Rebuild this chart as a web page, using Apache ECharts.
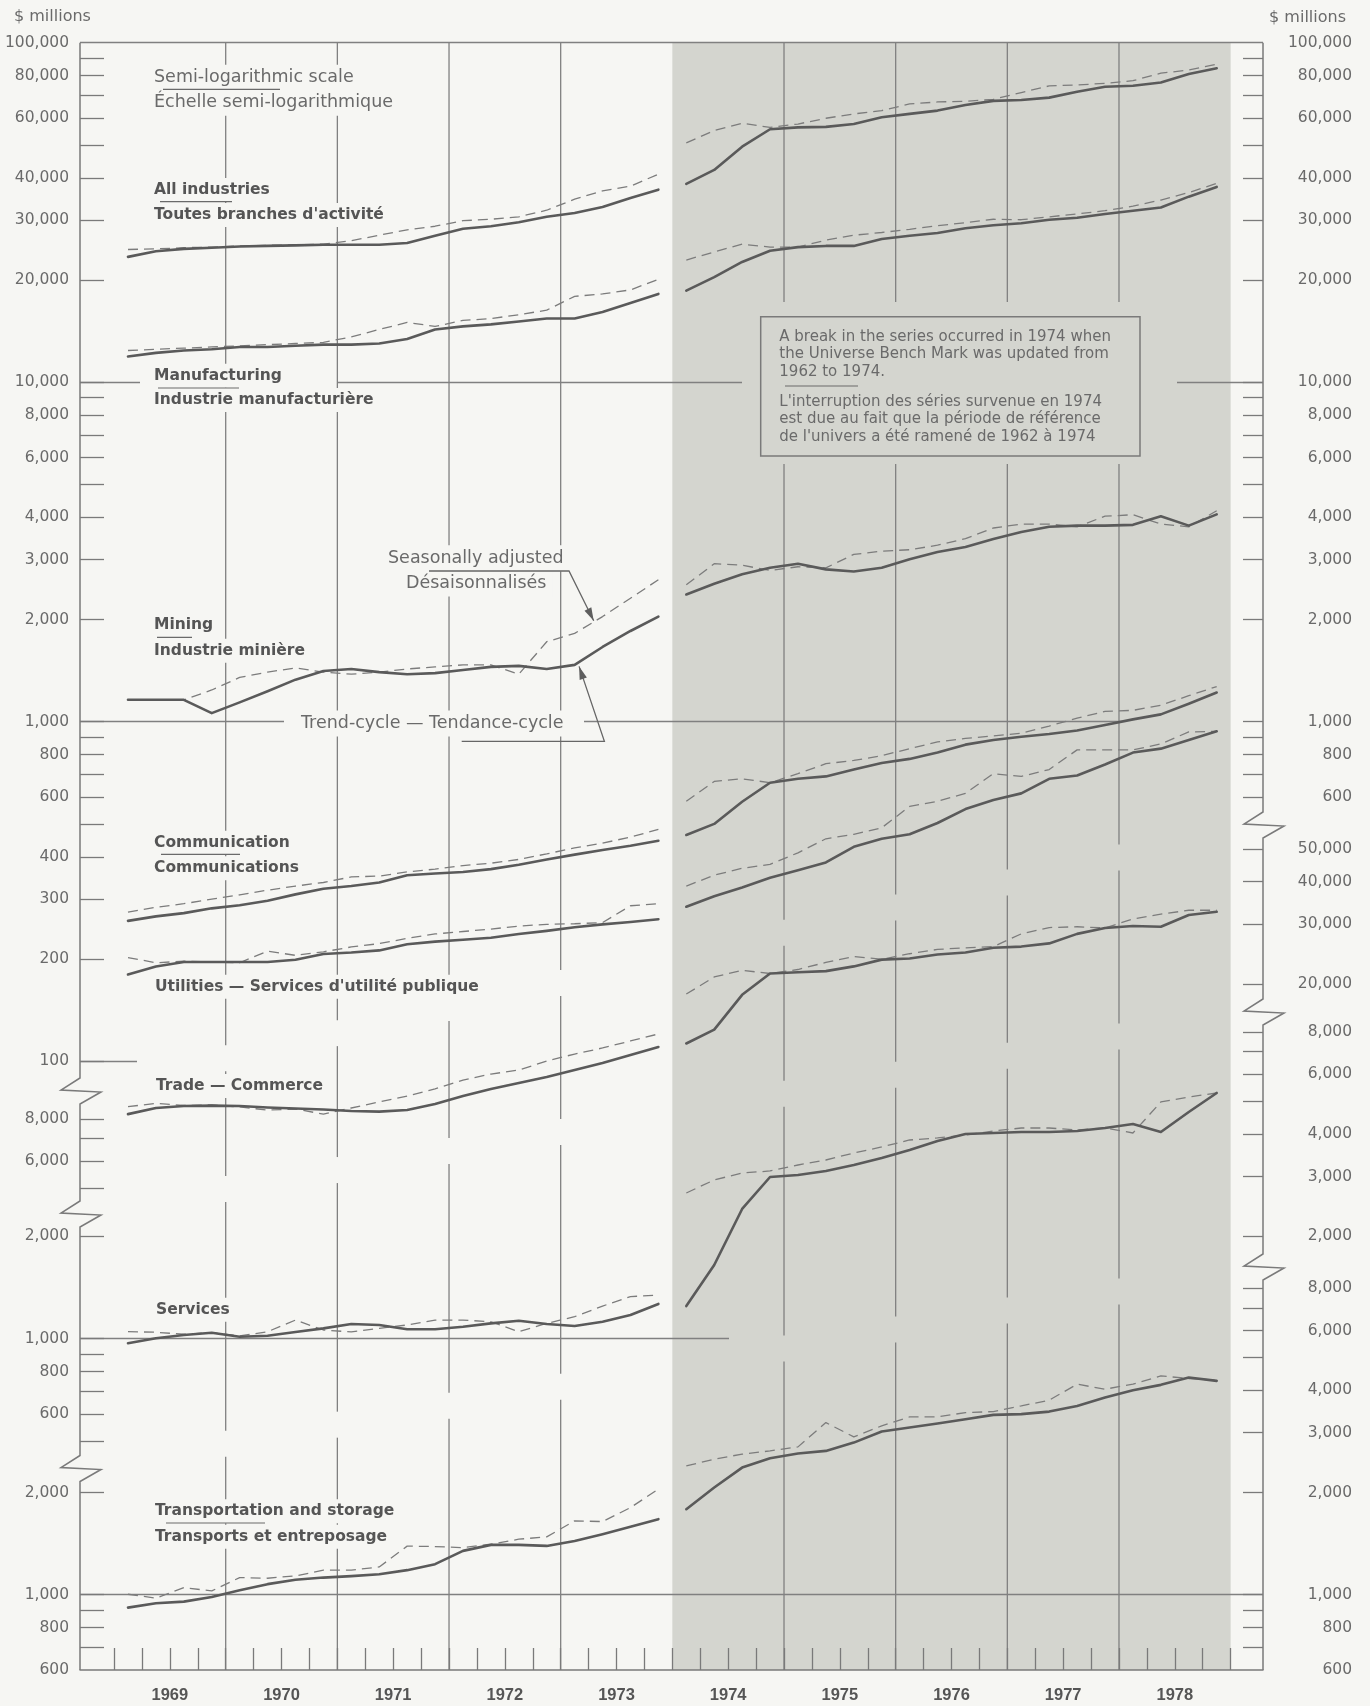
<!DOCTYPE html>
<html>
<head>
<meta charset="utf-8">
<script src="https://cdn.jsdelivr.net/npm/echarts@6/dist/echarts.min.js"></script>
<style>
  html, body { margin: 0; padding: 0; background: #f6f6f3; }
  #chart { width: 1370px; height: 1706px; }
</style>
</head>
<body>
<div id="chart"></div>
<script>
// ---------------- categories ----------------
const yearsBefore = [1969, 1970, 1971, 1972, 1973];
const yearsAfter  = [1974, 1975, 1976, 1977, 1978];
const quarters    = ['Q1', 'Q2', 'Q3', 'Q4'];
const allYears    = yearsBefore.concat(yearsAfter);
const yearLines   = [1970, 1971, 1972, 1973, 1975, 1976, 1977, 1978];
const breakPeriod = [1974, 1979];

// ---------------- series values ($ millions, quarterly) ----------------
const allIndustriesTrend_69_73 = [23400, 24300, 24700, 24900, 25100, 25200, 25300, 25400, 25400, 25400, 25700, 27000, 28300, 28800, 29600, 30700, 31500, 32800, 34900, 36900];
const allIndustriesSA_69_73    = [24600, 24700, 24900, 25000, 25200, 25300, 25400, 25500, 26100, 27100, 28100, 28800, 29900, 30200, 30700, 32100, 34600, 36600, 37800, 41000];
const allIndustriesTrend_74_78 = [38400, 42200, 49400, 55600, 56300, 56500, 57600, 60300, 61700, 63100, 65500, 67400, 67800, 68900, 71700, 74200, 74700, 76300, 80900, 84100];
const allIndustriesSA_74_78    = [50700, 55100, 57900, 56300, 57600, 59900, 61700, 63100, 66000, 66900, 67200, 68100, 71300, 74600, 75100, 75900, 77300, 81300, 83100, 86400];

const manufacturingTrend_69_73 = [11900, 12200, 12400, 12500, 12700, 12700, 12800, 12900, 12900, 13000, 13400, 14300, 14600, 14800, 15100, 15400, 15400, 16100, 17100, 18200];
const manufacturingSA_69_73    = [12400, 12500, 12600, 12700, 12800, 12900, 13000, 13100, 13600, 14300, 15000, 14600, 15200, 15400, 15800, 16300, 17900, 18200, 18700, 20100];
const manufacturingTrend_74_78 = [18600, 20400, 22600, 24400, 25000, 25200, 25200, 26400, 27000, 27500, 28400, 29000, 29400, 30100, 30500, 31300, 32000, 32700, 35200, 37600];
const manufacturingSA_74_78    = [22900, 24200, 25500, 25000, 25000, 26200, 27100, 27600, 28200, 28900, 29500, 30200, 30100, 30700, 31300, 32000, 33000, 34400, 36200, 38500];

const miningTrend_69_73 = [1160, 1160, 1160, 1060, 1140, 1230, 1330, 1410, 1430, 1400, 1380, 1390, 1420, 1450, 1460, 1430, 1470, 1660, 1850, 2040];
const miningSA_69_73    = [1160, 1160, 1160, 1240, 1350, 1400, 1440, 1400, 1380, 1400, 1430, 1450, 1470, 1470, 1380, 1720, 1820, 2040, 2310, 2620];
const miningTrend_74_78 = [2370, 2550, 2720, 2840, 2920, 2810, 2770, 2840, 3010, 3160, 3270, 3450, 3620, 3750, 3780, 3780, 3800, 4030, 3780, 4080];
const miningSA_74_78    = [2530, 2920, 2890, 2790, 2860, 2840, 3110, 3180, 3210, 3310, 3460, 3720, 3820, 3820, 3750, 4030, 4070, 3820, 3750, 4180];

const communicationTrend_69_73 = [259, 267, 273, 282, 288, 297, 310, 322, 328, 336, 353, 357, 361, 368, 379, 393, 406, 419, 431, 446];
const communicationSA_69_73    = [275, 284, 291, 300, 309, 319, 328, 336, 349, 351, 361, 368, 377, 383, 393, 408, 425, 439, 457, 482];
const communicationTrend_74_78 = [464, 500, 581, 661, 679, 690, 723, 756, 777, 811, 856, 883, 903, 920, 942, 978, 1016, 1051, 1130, 1219];
const communicationSA_74_78    = [583, 667, 679, 661, 703, 752, 769, 794, 833, 872, 893, 908, 925, 971, 1024, 1072, 1080, 1118, 1193, 1269];

const utilitiesTrend_69_73 = [180, 190, 196, 196, 196, 196, 199, 207, 209, 212, 221, 225, 228, 231, 237, 242, 248, 253, 257, 262];
const utilitiesSA_69_73    = [202, 195, 197, 196, 195, 211, 205, 210, 217, 222, 230, 237, 241, 245, 250, 253, 254, 256, 287, 291];
const utilitiesTrend_74_78 = [285, 306, 325, 347, 365, 385, 428, 452, 466, 503, 553, 588, 615, 679, 694, 748, 811, 833, 883, 937];
const utilitiesSA_74_78    = [328, 353, 370, 380, 411, 452, 466, 487, 563, 583, 615, 703, 690, 723, 826, 826, 826, 860, 933, 937];

const tradeTrend_69_73 = [8270, 8620, 8740, 8760, 8740, 8650, 8590, 8530, 8450, 8410, 8500, 8860, 9350, 9810, 10210, 10630, 11150, 11690, 12350, 13040];
const tradeSA_69_73    = [8700, 8890, 8770, 8800, 8680, 8500, 8560, 8270, 8620, 8980, 9350, 9810, 10420, 10850, 11150, 11850, 12430, 12950, 13580, 14240];
const tradeTrend_74_78 = [13350, 14670, 18570, 21460, 21640, 21810, 22520, 23580, 23760, 24410, 24750, 25550, 25760, 26320, 28080, 29230, 29630, 29470, 31920, 32610];
const tradeSA_74_78    = [18670, 20960, 21930, 21460, 22050, 23140, 24080, 23640, 24540, 25270, 25550, 25760, 28080, 29310, 29470, 29230, 31080, 32090, 32960, 32960];

const servicesTrend_69_73 = [969, 1002, 1025, 1041, 1013, 1020, 1046, 1072, 1104, 1097, 1065, 1065, 1084, 1109, 1129, 1104, 1089, 1121, 1174, 1265];
const servicesSA_69_73    = [1048, 1044, 1030, 1041, 1018, 1048, 1134, 1060, 1046, 1072, 1097, 1134, 1134, 1121, 1048, 1109, 1160, 1247, 1329, 1344];
const servicesTrend_74_78 = [1247, 1647, 2409, 2992, 3033, 3117, 3246, 3404, 3594, 3819, 4005, 4033, 4060, 4060, 4088, 4172, 4287, 4060, 4650, 5290];
const servicesSA_74_78    = [2685, 2933, 3074, 3117, 3246, 3358, 3522, 3668, 3846, 3899, 3979, 4088, 4172, 4172, 4116, 4172, 4033, 4977, 5149, 5290];

const transportTrend_69_73 = [916, 944, 954, 985, 1031, 1074, 1106, 1123, 1134, 1149, 1181, 1230, 1346, 1402, 1402, 1392, 1440, 1507, 1584, 1669];
const transportSA_69_73    = [1003, 977, 1049, 1026, 1123, 1118, 1136, 1181, 1181, 1207, 1390, 1386, 1376, 1408, 1457, 1480, 1650, 1642, 1805, 2046];
const transportTrend_74_78 = [1786, 2068, 2368, 2524, 2604, 2652, 2805, 3023, 3106, 3192, 3288, 3385, 3402, 3462, 3598, 3806, 4003, 4150, 4361, 4264];
const transportSA_74_78    = [2395, 2507, 2594, 2652, 2725, 3213, 2916, 3142, 3339, 3339, 3438, 3462, 3598, 3740, 4169, 4030, 4169, 4411, 4331, 4283];

// ---------------- tick labels ----------------
const leftTopTicks    = [90000, 80000, 70000, 60000, 50000, 40000, 30000, 20000, 10000, 9000, 8000, 7000, 6000, 5000, 4000, 3000, 2000, 1000, 900, 800, 700, 600, 500, 400, 300, 200, 100];
const leftTopLabels   = [100000, 80000, 60000, 40000, 30000, 20000, 10000, 8000, 6000, 4000, 3000, 2000, 1000, 800, 600, 400, 300, 200, 100];
const leftTradeTicks  = [8000, 7000, 6000, 5000];
const leftTradeLabels = [8000, 6000];
const leftServTicks   = [2000, 1000, 900, 800, 700, 600, 500];
const leftServLabels  = [2000, 1000, 800, 600];
const leftTransTicks  = [2000, 1000, 900, 800, 700];
const leftTransLabels = [2000, 1000, 800, 600];
const rightTopTicks    = [90000, 80000, 70000, 60000, 50000, 40000, 30000, 20000, 10000, 9000, 8000, 7000, 6000, 5000, 4000, 3000, 2000, 1000, 900, 800, 700, 600];
const rightTopLabels   = [100000, 80000, 60000, 40000, 30000, 20000, 10000, 8000, 6000, 4000, 3000, 2000, 1000, 800, 600];
const rightTradeTicks  = [50000, 40000, 30000, 20000];
const rightTradeLabels = [50000, 40000, 30000, 20000];
const rightServTicks   = [8000, 7000, 6000, 5000, 4000, 3000, 2000];
const rightServLabels  = [8000, 6000, 4000, 3000, 2000];
const rightTransTicks  = [8000, 7000, 6000, 5000, 4000, 3000, 2000, 1000, 900, 800, 700];
const rightTransLabels = [8000, 6000, 4000, 3000, 2000, 1000, 800, 600];

// ---------------- layout & style ----------------
const BG = '#f6f6f3', SHADE = '#d4d5cf', SOLID = '#5a5a5a', DASH = '#7c7c7c';
const GRIDC = '#808080', TXT = '#6a6a6a', BOLDTXT = '#555555';
const GRID = { left: 80, top: 42.7, width: 1183, height: 1627.3 };
const X_MIN = 1968.6952, X_MAX = 1979.2897;
const PX_PER_DECADE = 339.5;
const bottomPx = GRID.top + GRID.height;
const rightPx = GRID.left + GRID.width;
const yr = px => X_MIN + (px - GRID.left) / GRID.width * (X_MAX - X_MIN);
function logRange(anchorValue, anchorPx) {
  return [anchorValue * Math.pow(10, (anchorPx - bottomPx) / PX_PER_DECADE),
          anchorValue * Math.pow(10, (anchorPx - GRID.top) / PX_PER_DECADE)];
}
const rangeTop   = logRange(100000, GRID.top);
const rangeTrade = logRange(8000, 1119);
const rangeServ  = logRange(1000, 1338.6);
const rangeTrans = logRange(600, bottomPx);
// scale breaks (left axis y, right axis y), px
const BREAKS = [{ l: 1091, r: 825 }, { l: 1214, r: 1012 }, { l: 1468.5, r: 1267 }];
const GAP = 13;

const NUM_FONT = 'DejaVu Sans';
function yAxis(pos, range, ticks, labels) {
  return {
    type: 'log', logBase: 10, gridIndex: 0, position: pos, offset: 0,
    min: range[0], max: range[1], z: 5,
    axisLine: { show: false },
    splitLine: { show: false },
    axisTick: { show: true, inside: true, length: pos === 'left' ? 24 : 20, customValues: ticks,
                lineStyle: { color: '#7a7a7a', width: 1.3 } },
    axisLabel: { show: true, customValues: labels, align: 'right',
                 margin: pos === 'left' ? 11 : 89,
                 formatter: v => Math.round(v).toLocaleString('en-US'),
                 color: TXT, fontFamily: NUM_FONT, fontSize: 15.5 }
  };
}

// ---------------- series ----------------
const industries = [
  { name: 'All industries', axis: 0, tA: allIndustriesTrend_69_73, sA: allIndustriesSA_69_73, tB: allIndustriesTrend_74_78, sB: allIndustriesSA_74_78 },
  { name: 'Manufacturing', axis: 0, tA: manufacturingTrend_69_73, sA: manufacturingSA_69_73, tB: manufacturingTrend_74_78, sB: manufacturingSA_74_78 },
  { name: 'Mining', axis: 0, tA: miningTrend_69_73, sA: miningSA_69_73, tB: miningTrend_74_78, sB: miningSA_74_78 },
  { name: 'Communication', axis: 0, tA: communicationTrend_69_73, sA: communicationSA_69_73, tB: communicationTrend_74_78, sB: communicationSA_74_78 },
  { name: 'Utilities', axis: 0, tA: utilitiesTrend_69_73, sA: utilitiesSA_69_73, tB: utilitiesTrend_74_78, sB: utilitiesSA_74_78 },
  { name: 'Trade', axis: 1, tA: tradeTrend_69_73, sA: tradeSA_69_73, tB: tradeTrend_74_78, sB: tradeSA_74_78 },
  { name: 'Services', axis: 2, tA: servicesTrend_69_73, sA: servicesSA_69_73, tB: servicesTrend_74_78, sB: servicesSA_74_78 },
  { name: 'Transportation and storage', axis: 3, tA: transportTrend_69_73, sA: transportSA_69_73, tB: transportTrend_74_78, sB: transportSA_74_78 }
];
function toPoints(years, values) {
  const pts = [];
  years.forEach((y, yi) => quarters.forEach((q, qi) => pts.push([y + (qi + 0.5) / 4, values[yi * 4 + qi]])));
  return pts;
}
function mline(segments) {
  return {
    silent: true, symbol: 'none', z: 3, animation: false, label: { show: false },
    lineStyle: { color: GRIDC, width: 1.3, type: 'solid' },
    emphasis: { disabled: true },
    data: segments.map(s => [{ coord: [yr(s[1]), s[0]] }, { coord: [yr(s[2]), s[0]] }])
  };
}
const refLines = {
  0: [[100000, GRID.left, rightPx], [10000, 80, 140], [10000, 337, 742], [10000, 1177, rightPx],
      [1000, 80, 284], [1000, 584, 1122], [100, 80, 137]],
  2: [[1000, 80, 729]],
  3: [[1000, 80, rightPx]]
};

const series = [];
series.push({
  type: 'custom', name: 'break period shading', z: 1, silent: true, clip: false,
  xAxisIndex: 0, yAxisIndex: 0, data: [[breakPeriod[0], 1000, breakPeriod[1]]],
  encode: { x: 0, y: 1 },
  renderItem: (params, api) => {
    const cs = params.coordSys;
    const x1 = api.coord([api.value(0), 1000])[0];
    const x2 = api.coord([api.value(2), 1000])[0];
    return { type: 'rect', shape: { x: x1, y: cs.y, width: x2 - x1, height: cs.height }, style: { fill: SHADE } };
  }
});
series.push({
  type: 'custom', name: 'year lines', z: 2, silent: true, clip: false,
  xAxisIndex: 0, yAxisIndex: 0, data: yearLines.map(y => [y, 1000]),
  renderItem: (params, api) => {
    const cs = params.coordSys;
    const x = api.coord([api.value(0), 1000])[0];
    const t = (x - cs.x) / cs.width;
    const gaps = BREAKS.map(b => b.l + t * (b.r - b.l)).sort((a, b) => a - b);
    const segs = []; let y0 = cs.y;
    gaps.forEach(g => { segs.push([y0, g - GAP]); y0 = g + GAP; });
    segs.push([y0, cs.y + cs.height]);
    return { type: 'group', children: segs.map(s => ({ type: 'line', shape: { x1: x, y1: s[0], x2: x, y2: s[1] },
             style: { stroke: GRIDC, lineWidth: 1.3 } })) };
  }
});
industries.forEach((ind, idx) => {
  [['seasonally adjusted', ind.sA, ind.sB, true], ['trend-cycle', ind.tA, ind.tB, false]].forEach(([kind, a, b, dashed]) => {
    [[yearsBefore, a, '1969–1973'], [yearsAfter, b, '1974–1978']].forEach(([yrs, vals, per], pi) => {
      const s = {
        type: 'line', name: ind.name + ' — ' + kind + ' ' + per,
        xAxisIndex: 0, yAxisIndex: ind.axis, data: toPoints(yrs, vals),
        showSymbol: false, symbol: 'none', smooth: false, clip: false, silent: true,
        z: dashed ? 6 : 7,
        lineStyle: dashed ? { color: DASH, width: 1.3, type: [10, 6] } : { color: SOLID, width: 2.6, cap: 'round', join: 'round' }
      };
      if (!dashed && pi === 0 && refLines[ind.axis] && (idx === 0 || ind.axis !== 0)) {
        s.markLine = mline(refLines[ind.axis]);
      }
      series.push(s);
    });
  });
});

// ---------------- annotations ----------------
const G = [];
const REG = '17.5px "DejaVu Sans"', BOLD = 'bold 15.5px "DejaVu Sans"';
function txt(text, x, y, font, color, opt) {
  opt = opt || {};
  G.push({ type: 'text', z: opt.z || 4, silent: true, style: {
    text, x, y, font, fill: color,
    align: opt.align || 'left', textAlign: opt.align || 'left',
    verticalAlign: 'middle', textVerticalAlign: 'middle',
    backgroundColor: opt.bg === false ? null : (opt.bg || BG), padding: opt.pad || [4, 6, 4, 6]
  } });
}
function poly(points, color, w, z) {
  G.push({ type: 'polyline', z: z || 5, silent: true, shape: { points }, style: { stroke: color || '#666', lineWidth: w || 1.3, fill: null } });
}
function arrow(points) {
  poly(points, '#666', 1.3, 5);
  const p = points[points.length - 2], q = points[points.length - 1];
  const dx = q[0] - p[0], dy = q[1] - p[1], L = Math.hypot(dx, dy);
  const ux = dx / L, uy = dy / L, nx = -uy, ny = ux, len = 13, h = 3.8;
  G.push({ type: 'polygon', z: 5, silent: true, shape: { points: [q,
    [q[0] - ux * len + nx * h, q[1] - uy * len + ny * h],
    [q[0] - ux * len - nx * h, q[1] - uy * len - ny * h]] }, style: { fill: '#5e5e5e' } });
}
// axis lines with scale-break zigzags
function axisLinePoints(x, centers, dir) {
  const pts = [[x, GRID.top]];
  centers.forEach(c => {
    pts.push([x, c - 13]); pts.push([x - 19, c - 1]); pts.push([x + 21, c + 1]); pts.push([x, c + 13]);
  });
  pts.push([x, bottomPx]);
  return pts;
}
poly(axisLinePoints(GRID.left, BREAKS.map(b => b.l)), '#7a7a7a', 1.5, 5);
poly(axisLinePoints(rightPx, BREAKS.map(b => b.r)), '#7a7a7a', 1.5, 5);

// units
txt('$ millions', 8, 17, '16px "DejaVu Sans"', TXT, { bg: false, pad: 0 });
txt('$ millions', 1352, 18, '16px "DejaVu Sans"', TXT, { bg: false, pad: 0, align: 'right' });
// scale note
txt('Semi-logarithmic scale', 148, 77.7, REG, TXT);
txt('Échelle semi-logarithmique', 148, 102.7, REG, TXT);
// industry labels
txt('All industries', 148, 190, BOLD, BOLDTXT);
txt('Toutes branches d\'activité', 148, 215, BOLD, BOLDTXT);
txt('Manufacturing', 148, 375.7, BOLD, BOLDTXT);
txt('Industrie manufacturière', 148, 400, BOLD, BOLDTXT);
txt('Mining', 148, 625, BOLD, BOLDTXT);
txt('Industrie minière', 148, 650.7, BOLD, BOLDTXT);
txt('Communication', 148, 842.7, BOLD, BOLDTXT);
txt('Communications', 148, 868.3, BOLD, BOLDTXT);
txt('Utilities — Services d\'utilité publique', 149, 986.7, BOLD, BOLDTXT);
txt('Trade — Commerce', 150, 1086, BOLD, BOLDTXT);
txt('Services', 150, 1309.7, BOLD, BOLDTXT);
txt('Transportation and storage', 149, 1511.3, BOLD, BOLDTXT);
txt('Transports et entreposage', 149, 1536.7, BOLD, BOLDTXT);
// line-type annotations
txt('Seasonally adjusted', 382, 558.2, REG, TXT);
txt('Désaisonnalisés', 400, 583.6, REG, TXT);
txt('Trend-cycle — Tendance-cycle', 295, 723.6, REG, TXT);
arrow([[429, 571], [569, 571], [593.7, 620.7]]);
arrow([[461.7, 741.4], [604.4, 741.4], [579.1, 666.4]]);
// separators under English names
[[163, 280, 89.3], [160, 232, 201.7], [158, 239, 388], [157, 192, 637.3], [161, 240, 854.3], [166, 265, 1523], [785, 858, 386]]
  .forEach(s => poly([[s[0], s[2]], [s[1], s[2]]], '#6a6a6a', 1.2, 5));
// note box
G.push({ type: 'rect', z: 4, silent: true, shape: { x: 752, y: 302, width: 396, height: 162 }, style: { fill: SHADE } });
G.push({ type: 'rect', z: 4, silent: true, shape: { x: 760.7, y: 316.7, width: 379.3, height: 139.3 }, style: { fill: SHADE, stroke: '#7a7a7a', lineWidth: 1.5 } });
const BOX = '15px "DejaVu Sans"';
[['A break in the series occurred in 1974 when', 336.7],
 ['the Universe Bench Mark was updated from', 354.3],
 ['1962 to 1974.', 371.7],
 ['L\'interruption des séries survenue en 1974', 401.7],
 ['est due au fait que la période de référence', 419.3],
 ['de l\'univers a été ramené de 1962 à 1974', 436.7]]
  .forEach(l => txt(l[0], 773.3, l[1], BOX, TXT, { bg: false, pad: 0, z: 5 }));

// ---------------- x axis ticks / labels ----------------
const quarterTicks = [];
allYears.forEach(y => [0, 0.25, 0.5, 0.75].forEach(f => quarterTicks.push(y + f)));
quarterTicks.push(1979);
const yearLabelValues = allYears.map(y => y + 0.5);

const option = {
  backgroundColor: BG,
  animation: false,
  textStyle: { fontFamily: 'DejaVu Sans' },
  grid: [{ left: GRID.left, top: GRID.top, width: GRID.width, height: GRID.height, containLabel: false, outerBoundsMode: 'none' }],
  xAxis: [{
    type: 'value', gridIndex: 0, min: X_MIN, max: X_MAX, position: 'bottom', z: 5,
    axisLine: { show: true, onZero: false, lineStyle: { color: '#7a7a7a', width: 1.5 } },
    axisTick: { show: true, inside: true, length: 22, customValues: quarterTicks, lineStyle: { color: '#7a7a7a', width: 1.3 } },
    axisLabel: { customValues: yearLabelValues, formatter: v => String(Math.floor(v)), margin: 17,
                 color: '#555', fontFamily: 'Liberation Sans', fontWeight: 'bold', fontSize: 16.5 },
    splitLine: { show: false }
  }],
  yAxis: [
    yAxis('left', rangeTop, leftTopTicks, leftTopLabels),
    yAxis('left', rangeTrade, leftTradeTicks, leftTradeLabels),
    yAxis('left', rangeServ, leftServTicks, leftServLabels),
    yAxis('left', rangeTrans, leftTransTicks, leftTransLabels),
    yAxis('right', rangeTop, rightTopTicks, rightTopLabels),
    yAxis('right', rangeTrade, rightTradeTicks, rightTradeLabels),
    yAxis('right', rangeServ, rightServTicks, rightServLabels),
    yAxis('right', rangeTrans, rightTransTicks, rightTransLabels)
  ],
  series: series,
  graphic: { elements: G }
};
// left axis labels are right-aligned toward the axis
option.yAxis.slice(0, 4).forEach(a => { a.axisLabel.align = 'right'; });

const chart = echarts.init(document.getElementById('chart'), null, { renderer: 'canvas' });
chart.setOption(option);
</script>
</body>
</html>
